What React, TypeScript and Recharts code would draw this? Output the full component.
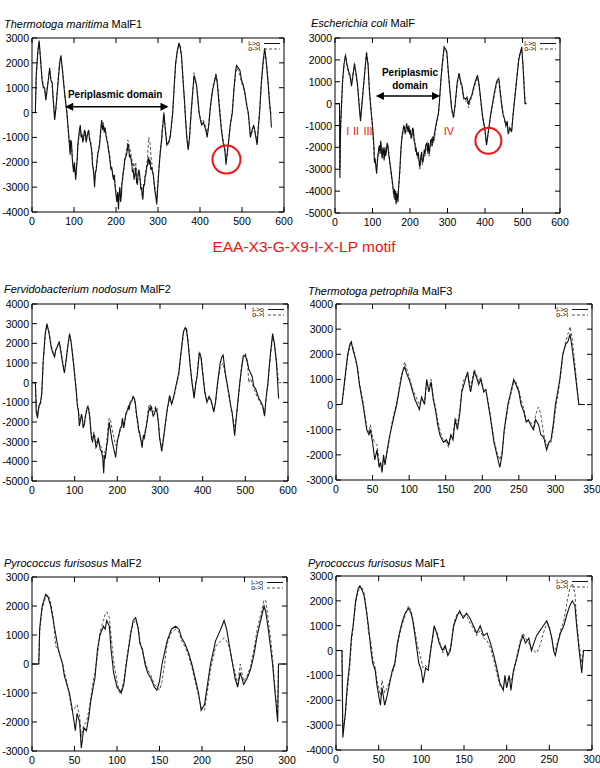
import React from 'react';
import { LineChart, Line, XAxis, YAxis, ReferenceArea, ReferenceDot, ReferenceLine } from 'recharts';

const FONT = '"Liberation Sans", Arial, Helvetica, sans-serif';
const RED = '#f01414';

// ---------- Thermotoga maritima MalF1 ----------
const tmXa = [3, 8, 10, 14, 17, 20, 24, 27, 30, 33, 36, 40, 42, 45, 48, 51, 54, 57, 62, 66, 69, 73, 78, 83];
const tmIOa = [0, 0, 1500, 2500, 2900, 2200, 1300, 1000, 1000, 500, 900, 1500, 1800, 1300, 1200, 400, -300, 200, 1200, 2000, 2300, 1600, 700, 0];
const tmOIa = [0, 0, 1400, 2400, 2800, 2300, 1400, 1100, 900, 700, 1000, 1400, 1700, 1400, 1100, 500, -200, 100, 1300, 2100, 2200, 1700, 800, 0];
const tmXb = [
  87, 89, 91, 92, 94, 96, 99, 101, 104, 106,
  108, 109, 111, 113, 115, 117, 119, 121, 123, 125,
  127, 129, 131, 133, 135, 137, 139, 141, 143, 144,
  146, 147, 149, 151, 153, 155, 157, 159, 161, 163,
  166, 168, 170, 172, 174, 176, 178, 180, 182, 184,
  186, 188, 190, 192, 194, 196, 198, 200, 202, 204,
  206, 207, 209, 211, 213, 214, 216, 217, 219, 221,
  223, 225, 227, 228, 230, 232, 234, 236, 238, 239,
  241, 243, 245, 247, 249, 251, 253, 255, 257, 259,
  261, 262, 264, 266, 268, 269, 271, 273, 275, 276,
  278, 279, 281, 283, 285, 287, 289, 291, 293, 295,
  297, 299, 301, 303, 305, 307, 309, 310, 312, 313,
  314,
];
const tmIOb = [
  -800, -1300, -1700, -1100, -1200, -1900, -2400, -2000, -2700, -2200,
  -1800, -1300, -1000, -700, -500, -1000, -900, -1200, -1000, -700,
  -800, -1200, -1000, -800, -700, -1100, -1200, -1400, -1700, -2100,
  -2300, -2500, -3000, -2400, -2300, -1900, -1600, -1500, -1300, -800,
  -300, -700, -500, -800, -600, -900, -1100, -1200, -1500, -1700,
  -2000, -2300, -2200, -2500, -2700, -2500, -3000, -3300, -3600, -3200,
  -3900, -3400, -3000, -3600, -3300, -2900, -2600, -2400, -2200, -1900,
  -1800, -1700, -1500, -1300, -1300, -1800, -1700, -1900, -2100, -2400,
  -2300, -2700, -2500, -2200, -2800, -2900, -2400, -2300, -2600, -3100,
  -3000, -3300, -3500, -2900, -2900, -2600, -2500, -2200, -2100, -1900,
  -1800, -2100, -1900, -2300, -2200, -2400, -2500, -2900, -3200, -3400,
  -3700, -3100, -2600, -2100, -1700, -1300, -1000, -700, -400, -200,
  0,
];
const tmOIb = [
  -900, -1200, -1600, -1300, -1300, -1800, -2300, -2100, -2600, -2300,
  -1700, -1400, -1100, -800, -600, -900, -800, -1100, -1100, -800,
  -900, -1100, -900, -900, -800, -1000, -1100, -1300, -1600, -2000,
  -2200, -2400, -2700, -2500, -2200, -2000, -1700, -1400, -1200, -900,
  -400, -600, -400, -700, -700, -800, -1000, -1300, -1400, -1600,
  -1800, -2200, -2300, -2400, -2600, -2600, -2900, -3200, -3400, -3300,
  -3600, -3500, -3100, -3300, -3000, -2800, -2700, -2500, -2300, -1800,
  -1700, -1500, -1300, -1100, -1200, -1600, -1500, -1700, -1900, -2100,
  -2000, -2300, -2100, -2000, -2600, -2700, -2500, -2400, -2700, -2900,
  -2900, -3100, -3300, -3000, -2800, -2600, -2400, -2100, -1900, -1500,
  -1000, -1100, -1200, -1700, -2000, -2300, -2600, -2800, -3000, -3300,
  -3500, -3000, -2500, -2000, -1600, -1400, -1100, -800, -500, -300,
  -100,
];
const tmXc = [
  318, 321, 325, 329, 332, 335, 339, 342, 346, 350,
  353, 356, 360, 363, 366, 369, 372, 375, 378, 382,
  386, 389, 392, 395, 398, 401, 404, 408, 412, 415,
  417, 421, 425, 430, 434, 438, 441, 444, 447, 451,
  455, 459, 462, 465, 468, 472, 477, 481, 485, 487,
  491, 495, 499, 503, 507, 511, 515, 518, 520, 524,
  528, 532, 536, 539, 542, 546, 550, 554, 558, 562,
  566, 568, 570,
];
const tmIOc = [
  -800, -1300, -1200, -1000, -500, 0, 1200, 2000, 2500, 2800,
  2600, 2300, 1200, 500, -400, -1100, -1500, -1000, -200, 700,
  1500, 1300, 1100, 500, 0, -300, -500, -400, -600, -800,
  -1000, -500, 300, 900, 1200, 1500, 1200, 600, 0, -700,
  -1200, -1500, -2100, -1600, -1200, -500, 0, 1000, 1700, 1900,
  1800, 1700, 1300, 1100, 800, 300, 0, -600, -1000, -700,
  -500, -900, -1300, -600, 0, 1200, 2000, 2600, 2000, 1200,
  300, 0, -600,
];
const tmOIc = [
  -700, -1200, -1300, -900, -600, 0, 1100, 1900, 2400, 2700,
  2700, 2200, 1300, 400, -300, -1000, -1400, -1100, -300, 600,
  1600, 1200, 1000, 600, -100, -200, -400, -300, -500, -700,
  -900, -400, 200, 1000, 1300, 1600, 1300, 800, 200, -600,
  -1100, -1400, -1800, -1700, -1100, -600, 100, 900, 1600, 1800,
  1700, 1500, 1200, 1000, 700, 400, -100, -500, -900, -800,
  -600, -800, -1200, -500, 100, 1100, 1900, 2500, 2100, 1300,
  400, 0, 0,
];
const tmX = [...tmXa, ...tmXb, ...tmXc];
const tmIO = [...tmIOa, ...tmIOb, ...tmIOc];
const tmOI = [...tmOIa, ...tmOIb, ...tmOIc];

// ---------- Escherichia coli MalF ----------
const ecXa = [3, 12, 13, 15, 20, 24, 28, 32, 36, 40, 44, 48, 52, 56, 60, 64, 68, 72, 78, 84, 88, 92, 96, 100];
const ecIOa = [0, 0, -3400, -1000, 1000, 1800, 2200, 1800, 1500, 1300, 800, 1300, 1800, 1400, 900, 0, -800, 0, 1200, 2300, 1800, 500, -300, -1000];
const ecOIa = [0, 0, -3000, -1200, 900, 1700, 2300, 1700, 1400, 1200, 900, 1400, 1900, 1300, 800, 100, -700, 100, 1100, 2400, 1900, 600, -200, -1100];
const ecXb = [
  104, 105, 107, 109, 111, 113, 115, 117, 119, 120,
  122, 124, 126, 128, 130, 131, 133, 135, 137, 139,
  141, 143, 145, 148, 151, 154, 157, 159, 160, 162,
  163, 165, 166, 168, 169, 171, 173, 175, 177, 179,
  181, 183, 185, 187, 189, 191, 193, 195, 197, 199,
  201, 203, 205, 207, 209, 211, 213, 215, 216, 218,
  220, 222, 224, 226, 227, 229, 231, 233, 236, 238,
  240, 242, 245, 247, 249, 251, 253, 255, 257, 259,
  261, 263, 265, 267, 269, 271, 274, 276, 278,
];
const ecIOb = [
  -2000, -2700, -2500, -2900, -3200, -2600, -2300, -2000, -1900, -2300,
  -1700, -2200, -2500, -2000, -2200, -2600, -2000, -2400, -2200, -1800,
  -1900, -2300, -2500, -2900, -3300, -3700, -4200, -3900, -4400, -4000,
  -4600, -4100, -4200, -4500, -4000, -3500, -3000, -2300, -1800, -1500,
  -1300, -1000, -1100, -1400, -1200, -900, -1100, -1300, -1000, -1400,
  -1200, -1600, -1500, -1100, -1200, -1700, -1800, -2200, -2000, -2300,
  -2400, -2200, -2600, -2900, -2800, -2400, -2200, -2700, -2500, -2100,
  -2300, -1900, -1800, -2200, -1800, -2300, -2000, -1700, -1600, -1900,
  -1500, -1700, -1400, -1200, -1000, -800, -600, -400, 0,
];
const ecOIb = [
  -2200, -2500, -2700, -2800, -3000, -2700, -2400, -2100, -2000, -2200,
  -1800, -2100, -2400, -2100, -2300, -2500, -2100, -2300, -2100, -1900,
  -2000, -2200, -2600, -3000, -3400, -3800, -4300, -4000, -4300, -4100,
  -4500, -4200, -4400, -4300, -3900, -3600, -3100, -2500, -1900, -1400,
  -1200, -1100, -1000, -1300, -1300, -1000, -1000, -1200, -1100, -1300,
  -1300, -1500, -1400, -1200, -1300, -1600, -1700, -2100, -2100, -2400,
  -2500, -2300, -2700, -3000, -2900, -2500, -2300, -2800, -2600, -2300,
  -2400, -2100, -2000, -2300, -1900, -2400, -2100, -1900, -1800, -2000,
  -1700, -1800, -1500, -1400, -1100, -900, -700, -500, -100,
];
const ecXc = [
  282, 286, 291, 295, 298, 302, 306, 311, 316, 320,
  326, 331, 335, 339, 343, 348, 352, 356, 360, 365,
  369, 374, 380, 384, 388, 393, 397, 400, 404, 407,
  411, 415, 420, 425, 431, 434, 437, 440, 444, 448,
  452, 456, 459, 462, 466, 471, 475, 478, 484, 490,
  494, 498, 502, 505, 507, 511,
];
const ecIOc = [
  1000, 1800, 2600, 2500, 2400, 1500, 700, -200, -600, -100,
  1000, 1400, 1000, 800, 300, 200, 300, 0, 200, 400,
  700, 1000, 1300, 900, 300, -500, -900, -1200, -1900, -1500,
  -1000, -500, 0, 500, 1000, 1100, 1100, 600, 0, -500,
  -700, -1000, -800, -1400, -1100, -1300, -500, 0, 1000, 2000,
  2300, 2600, 1500, 500, 0, 0,
];
const ecOIc = [
  900, 1700, 2500, 2400, 2300, 1400, 600, -300, -700, -200,
  900, 1300, 900, 700, 200, 100, 200, -200, 100, 300,
  600, 900, 1200, 800, 200, -600, -1000, -1300, -1800, -1600,
  -1100, -600, -100, 400, 900, 1000, 1200, 700, 100, -400,
  -800, -1100, -900, -1300, -1200, -1200, -400, 100, 1100, 2100,
  2400, 2500, 1700, 700, 0, 0,
];
const ecX = [...ecXa, ...ecXb, ...ecXc];
const ecIO = [...ecIOa, ...ecIOb, ...ecIOc];
const ecOI = [...ecOIa, ...ecOIb, ...ecOIc];

// ---------- Fervidobacterium nodosum MalF2 ----------
const fnXa = [0, 8, 10, 13, 16, 20, 23, 26, 31, 35, 40, 45, 49, 53, 56, 59, 64, 68, 74, 76, 79, 82, 88, 92, 98];
const fnIOa = [0, 0, -1500, -1800, -1200, -1000, -500, 1000, 2500, 3000, 2500, 1800, 1500, 1300, 1700, 1800, 2100, 1500, 700, 500, 1000, 1500, 2500, 2000, 800];
const fnOIa = [0, 0, -1300, -1600, -1300, -1100, -600, 900, 2400, 2900, 2600, 1900, 1600, 1400, 1600, 1900, 2000, 1600, 800, 600, 900, 1600, 2400, 2100, 900];
const fnXb = [
  104, 106, 109, 111, 113, 116, 118, 120, 123, 125,
  127, 129, 131, 133, 135, 137, 138, 140, 142, 145,
  147, 150, 152, 155, 157, 160, 163, 166, 168, 170,
  172, 175, 177, 179, 181, 183, 185, 188, 191, 194,
  196, 198, 200, 204, 207, 210, 212, 215, 217, 219,
  221, 224, 226, 228, 230, 234, 237, 240, 242, 245,
  248, 250, 252, 255, 258, 261, 263, 266, 268, 271,
  273, 275, 277, 279, 281, 284, 287, 290, 293, 296,
  299, 302, 304, 307, 310, 313, 316, 318, 320, 322,
  324, 327, 329, 332, 334,
];
const fnIOb = [
  -500, -1100, -1500, -2200, -2000, -1600, -1800, -2300, -2100, -1700,
  -1500, -1300, -1200, -1400, -1700, -2200, -2500, -2900, -3000, -2600,
  -2800, -3300, -3200, -2800, -3000, -3400, -3500, -3900, -4600, -3700,
  -3800, -3200, -3000, -2400, -2000, -2300, -2600, -3000, -3300, -3600,
  -3800, -3400, -3000, -2600, -2300, -2200, -1800, -2300, -2000, -1700,
  -1500, -1400, -1200, -1300, -1000, -900, -700, -800, -1000, -1600,
  -2000, -2400, -2500, -2900, -3300, -2700, -2800, -2400, -2200, -1800,
  -1500, -1300, -1400, -1200, -1400, -1700, -1600, -1300, -1500, -2000,
  -2800, -3200, -3500, -3000, -2500, -2000, -1500, -1200, -1000, -700,
  -800, -1100, -1000, -700, -500,
];
const fnOIb = [
  -400, -1000, -1400, -1900, -1900, -1700, -1900, -2200, -2000, -1800,
  -1600, -1400, -1300, -1300, -1600, -2100, -2400, -2700, -2800, -2500,
  -2700, -3100, -3000, -2900, -3100, -3200, -3300, -3600, -4000, -3500,
  -3700, -3000, -2600, -2100, -1800, -1900, -2000, -2400, -2700, -3000,
  -3200, -3100, -2900, -2700, -2400, -2300, -1900, -2200, -2100, -1800,
  -1600, -1500, -1300, -1400, -1100, -1000, -800, -900, -1100, -1700,
  -2200, -2500, -2700, -2800, -3000, -2800, -2900, -2500, -2300, -1600,
  -1300, -1100, -1200, -1100, -1300, -1500, -1400, -1200, -1300, -1900,
  -2700, -3100, -3400, -3100, -2600, -2100, -1600, -1300, -1100, -800,
  -700, -1000, -900, -800, -600,
];
const fnXc = [
  339, 344, 349, 355, 359, 362, 366, 371, 375, 380,
  384, 387, 392, 396, 400, 405, 410, 415, 420, 426,
  430, 435, 441, 445, 448, 453, 461, 466, 469, 475,
  480, 487, 491, 495, 500, 505, 508, 512, 516, 520,
  524, 527, 532, 537, 541, 545, 549, 553, 556, 559,
  564, 568, 573, 578, 586,
];
const fnIOc = [
  0, 500, 1500, 2600, 2800, 2700, 2000, 800, 0, -800,
  0, 300, 1500, 1300, 500, -500, -1000, -700, -900, -1500,
  -1000, 0, 1000, 1300, 1400, 500, -500, -1200, -1500, -2700,
  -1500, 0, 700, 1300, 1400, 1000, 700, 500, 300, -200,
  -300, -500, -800, -1000, -1200, -1700, -700, 0, 800, 1500,
  2500, 2000, 1000, -800, null,
];
const fnOIc = [
  -100, 400, 1400, 2500, 2700, 2800, 2100, 900, 100, -700,
  -100, 400, 1600, 1400, 600, -400, -900, -800, -1000, -1400,
  -1100, -100, 800, 900, 1000, 400, -600, -1300, -1600, -2300,
  -1600, -100, 800, 1400, 1500, 1100, 0, 200, 0, -300,
  -500, -700, -900, -1100, -1300, -1600, -800, -100, 700, 1400,
  2300, 2100, 1100, 0, 0,
];
const fnX = [...fnXa, ...fnXb, ...fnXc];
const fnIO = [...fnIOa, ...fnIOb, ...fnIOc];
const fnOI = [...fnOIa, ...fnOIb, ...fnOIc];

// ---------- Thermotoga petrophila MalF3 ----------
const tpX = [0, 8, 10, 12, 14, 16, 19, 21, 23, 25, 27, 29, 32, 35, 37, 40, 42, 45, 47, 50, 53, 56, 59, 61, 63, 65, 67, 70, 73, 76, 79, 83, 86, 89, 91, 94, 97, 100, 103, 105, 108, 111, 114, 117, 121, 124, 127, 130, 133, 136, 139, 142, 145, 147, 151, 154, 157, 160, 163, 166, 169, 172, 175, 177, 180, 182, 184, 189, 192, 195, 198, 202, 205, 207, 211, 216, 220, 224, 227, 230, 235, 239, 243, 246, 250, 253, 257, 260, 263, 266, 270, 273, 277, 280, 284, 288, 291, 294, 297, 300, 303, 306, 310, 314, 317, 320, 323, 326, 330, 332, 335, 340];
const tpIO = [0, 0, 500, 1000, 1500, 2000, 2400, 2500, 2200, 2000, 1800, 1500, 800, 300, 0, -600, -1000, -1200, -1000, -1500, -2200, -1800, -2500, -2300, -2700, -2000, -2400, -1800, -1300, -900, -500, 0, 500, 1000, 1300, 1500, 1200, 1000, 700, 500, 200, 0, -200, 300, 0, 1000, 500, 900, 200, -200, -800, -1200, -1400, -1500, -1400, -1600, -1200, -1400, -600, -1000, -400, 500, 800, 1000, 1300, 800, 500, 1300, 1100, 800, 1000, 500, 600, 200, -500, -1500, -2000, -2500, -2000, -1000, 0, 500, 1000, 800, 500, 0, -300, -700, -600, -800, -1000, -600, -800, -1200, -1300, -1800, -1500, -1400, -800, 0, 500, 1000, 2000, 2400, 2500, 2800, 2200, 1500, 500, 0, 0, 0];
const tpOI = [0, 0, 400, 900, 1400, 1900, 2300, 2400, 2300, 2100, 1700, 1600, 900, 400, 100, -500, -900, -1100, -800, -1300, -1500, -1600, -2300, -2400, -2600, -2200, -2300, -1900, -1400, -800, -400, 100, 600, 1100, 1300, 1700, 1400, 1100, 800, 600, 400, 200, 0, 200, 100, 900, 600, 1000, 300, -100, -600, -1000, -1300, -1400, -1500, -1700, -1300, -1200, -500, -800, -300, 600, 1000, 1100, 1200, 1000, 700, 1400, 1200, 900, 1100, 600, 500, 300, -400, -1400, -1900, -2200, -1900, -1100, -100, 400, 900, 900, 600, 200, -200, -600, -700, -700, -900, -400, -100, -400, -1200, -1600, -1600, -1500, -1000, -200, 300, 900, 1900, 2500, 2800, 3100, 2600, 1800, 600, 0, 0, 0];

// ---------- Pyrococcus furiosus MalF2 ----------
const pf2X = [0, 8, 9, 10, 12, 14, 16, 19, 22, 25, 28, 31, 33, 36, 38, 41, 44, 47, 51, 53, 56, 58, 61, 64, 67, 69, 72, 74, 77, 80, 84, 86, 88, 91, 93, 96, 100, 103, 105, 108, 111, 116, 119, 122, 125, 127, 130, 133, 136, 140, 144, 147, 150, 153, 156, 159, 164, 169, 173, 176, 180, 184, 188, 192, 196, 199, 203, 206, 210, 216, 222, 226, 229, 233, 236, 239, 242, 245, 249, 253, 257, 261, 265, 269, 273, 275, 278, 281, 283, 286, 289, 290, 298];
const pf2IO = [0, 0, 1200, 1500, 2000, 2200, 2400, 2300, 2000, 1500, 1000, 500, 300, 0, -400, -700, -1000, -1500, -2300, -1700, -2000, -2900, -2200, -2300, -1800, -1300, -800, -500, 500, 1000, 1300, 1200, 1500, 1300, 500, -300, -800, -900, -1000, -700, 0, 1000, 1500, 1600, 1200, 700, 500, 0, -300, -500, -800, -900, -600, 0, 400, 800, 1200, 1300, 1200, 900, 700, 400, 0, -500, -1000, -1600, -1400, -800, 0, 800, 1200, 1500, 1200, 500, 0, -500, -800, -300, -700, -500, -200, 300, 1000, 1500, 2000, 1800, 1200, 500, 0, -1000, -2000, 0, 0];
const pf2OI = [0, 0, 1100, 1400, 1900, 2100, 2300, 2400, 2100, 1600, 600, 500, 300, 0, -300, -600, -1100, -1600, -1500, -1400, -1800, -2500, -2100, -2000, -1600, -1200, -600, -300, 300, 1100, 1500, 1700, 1800, 1600, 1000, 100, -600, -1000, -900, -600, 100, 1100, 1400, 1500, 1300, 800, 400, 100, -200, -400, -700, -800, -900, -600, 0, 700, 1100, 1200, 1100, 800, 600, 300, -100, -600, -1100, -1500, -1600, -1000, -200, 600, 800, 900, 800, 500, 0, -300, -700, 0, -600, -400, -100, 500, 1200, 1700, 2200, 2200, 1500, 800, 200, -900, -1800, 0, 0];

// ---------- Pyrococcus furiosus MalF1 ----------
const pf1X = [0, 7, 8, 11, 13, 16, 18, 20, 23, 26, 28, 31, 33, 36, 38, 41, 43, 46, 48, 52, 54, 57, 60, 63, 66, 69, 72, 75, 78, 81, 85, 88, 90, 93, 95, 97, 100, 102, 105, 108, 111, 113, 115, 118, 121, 125, 128, 131, 134, 136, 138, 142, 145, 149, 153, 157, 161, 165, 169, 173, 177, 181, 185, 189, 192, 196, 198, 200, 203, 205, 208, 212, 216, 219, 222, 226, 229, 232, 235, 239, 243, 247, 250, 253, 255, 257, 260, 263, 267, 271, 274, 277, 280, 282, 285, 288, 290, 298];
const pf1IO = [0, 0, -3500, -2500, -1500, -500, 500, 1000, 2000, 2500, 2600, 2400, 2200, 1500, 1000, 0, -500, -800, -1400, -2200, -1500, -2200, -1800, -1300, -800, -500, 300, 800, 1200, 1500, 1700, 1500, 1200, 500, 0, -500, -800, -1300, -700, -800, 0, 500, 1000, 700, 300, 0, 200, -200, 0, 500, 1000, 1400, 1600, 1300, 1500, 1300, 1000, 700, 1000, 600, 700, 300, -200, -800, -1300, -1600, -1000, -1500, -1000, -1600, -800, -300, 300, 600, 300, 500, 0, 300, 600, 800, 1000, 1200, 900, 500, 0, -200, 300, 700, 1000, 1500, 1800, 2000, 1800, 1000, 0, -900, 0, 0];
const pf1OI = [0, 0, -3200, -2600, -1700, -700, 300, 900, 1900, 2400, 2500, 2500, 2300, 1600, 700, 300, -300, -700, -1200, -1800, -1200, -1700, -1500, -1200, -900, -600, 200, 700, 1100, 1400, 1800, 1600, 1300, 700, 300, 0, -400, -700, -600, -700, 100, 400, 900, 800, 400, -100, 100, -100, 100, 600, 1100, 1500, 1500, 1400, 1400, 1100, 900, 600, 800, 500, 400, 100, -400, -1000, -1400, -1500, -1300, -1200, -1100, -1200, -900, -200, 400, 700, 500, 300, 100, 0, -100, 200, 700, 1100, 1000, 400, 100, 0, 400, 800, 1200, 2000, 2500, 2700, 2300, 1200, 200, -500, 0, 0];

// ---------- ticks ----------
const x600 = [0, 100, 200, 300, 400, 500, 600];
const x350 = [0, 50, 100, 150, 200, 250, 300, 350];
const x300 = [0, 50, 100, 150, 200, 250, 300];
const yTM = [-4000, -3000, -2000, -1000, 0, 1000, 2000, 3000];
const yEC = [-5000, -4000, -3000, -2000, -1000, 0, 1000, 2000, 3000];
const yFN = [-5000, -4000, -3000, -2000, -1000, 0, 1000, 2000, 3000, 4000];
const yTP = [-3000, -2000, -1000, 0, 1000, 2000, 3000, 4000];
const yPF2 = [-3000, -2000, -1000, 0, 1000, 2000, 3000];
const yPF1 = [-4000, -3000, -2000, -1000, 0, 1000, 2000, 3000];

const ML = 40;
const MT = 10;
const MR = 12;
const XH = 24;
const TICK = 5;

type PanelProps = {
  left: number;
  top: number;
  plotW: number;
  plotH: number;
  xs: number[];
  io: (number | null)[];
  oi: (number | null)[];
  xTicks: number[];
  yTicks: number[];
  species: string;
  protein: string;
  titleX: number;
  titleY: number;
  children?: React.ReactNode;
};

function Panel(p: PanelProps) {
  const data = p.xs.map((x, i) => ({ x, io: p.io[i], oi: p.oi[i] }));
  const xDomain = [p.xTicks[0], p.xTicks[p.xTicks.length - 1]];
  const yDomain = [p.yTicks[0], p.yTicks[p.yTicks.length - 1]];
  const XTick = (t: any) => {
    const { x, y, payload } = t;
    return (
      <g>
        <line x1={x} y1={y} x2={x} y2={y - TICK} stroke="#000" />
        <line x1={x} y1={y - p.plotH} x2={x} y2={y - p.plotH + TICK} stroke="#000" />
        <text x={x} y={y + 13} textAnchor="middle" fontSize={10.5} fontFamily={FONT} fill="#000">
          {payload.value}
        </text>
      </g>
    );
  };
  const YTick = (t: any) => {
    const { x, y, payload } = t;
    return (
      <g>
        <line x1={x} y1={y} x2={x + TICK} y2={y} stroke="#000" />
        <line x1={x + p.plotW} y1={y} x2={x + p.plotW - TICK} y2={y} stroke="#000" />
        <text x={x - 3} y={y + 4} textAnchor="end" fontSize={10.5} fontFamily={FONT} fill="#000">
          {payload.value}
        </text>
      </g>
    );
  };
  return (
    <>
      <div
        style={{
          position: 'absolute',
          left: p.titleX,
          top: p.titleY - 7,
          fontFamily: FONT,
          fontSize: 11,
          lineHeight: '14px',
          whiteSpace: 'nowrap',
          color: '#000',
        }}
      >
        <i>{p.species}</i> {p.protein}
      </div>
      <div style={{ position: 'absolute', left: p.left - ML, top: p.top - MT }}>
        <LineChart
          width={p.plotW + ML + MR}
          height={p.plotH + MT + XH}
          data={data}
          margin={{ top: MT, right: MR, bottom: 0, left: 0 }}
        >
          <XAxis
            dataKey="x"
            type="number"
            domain={xDomain}
            ticks={p.xTicks}
            interval={0}
            tickSize={0}
            tickMargin={0}
            axisLine={false}
            tickLine={false}
            tick={XTick}
            height={XH}
            allowDataOverflow
          />
          <YAxis
            type="number"
            domain={yDomain}
            ticks={p.yTicks}
            interval={0}
            width={ML}
            tickSize={0}
            tickMargin={0}
            axisLine={false}
            tickLine={false}
            tick={YTick}
            allowDataOverflow
          />
          <ReferenceArea
            x1={xDomain[0]}
            x2={xDomain[1]}
            y1={yDomain[0]}
            y2={yDomain[1]}
            fill="none"
            fillOpacity={0}
            stroke="#000"
            strokeWidth={1}
          />
          <Line
            dataKey="oi"
            type="linear"
            stroke="#555"
            strokeWidth={1}
            strokeDasharray="3 2"
            dot={false}
            isAnimationActive={false}
          />
          <Line dataKey="io" type="linear" stroke="#111" strokeWidth={1.1} dot={false} isAnimationActive={false} />
          {p.children}
        </LineChart>
        <svg
          width={40}
          height={16}
          style={{ position: 'absolute', left: ML + p.plotW - 42, top: MT + 1 }}
        >
          <text x={18} y={6.5} textAnchor="end" fontSize={7} fontFamily={FONT} fill="#000">
            i-&gt;o
          </text>
          <text x={18} y={12} textAnchor="end" fontSize={7} fontFamily={FONT} fill="#000">
            o-&gt;i
          </text>
          <line x1={22} y1={4.5} x2={38} y2={4.5} stroke="#111" />
          <line x1={22} y1={10} x2={38} y2={10} stroke="#555" strokeDasharray="3 2" />
        </svg>
      </div>
    </>
  );
}

const arrowShape = (props: any) => {
  const { x1, y1, x2, y2 } = props;
  const h = 8;
  const w = 4;
  return (
    <g>
      <line x1={x1 + 2} y1={y1} x2={x2 - 2} y2={y2} stroke="#000" strokeWidth={1.5} />
      <polygon points={`${x1},${y1} ${x1 + h},${y1 - w} ${x1 + h},${y1 + w}`} fill="#000" />
      <polygon points={`${x2},${y2} ${x2 - h},${y2 - w} ${x2 - h},${y2 + w}`} fill="#000" />
    </g>
  );
};

const textShape = (label: string, color: string, size: number, bold: boolean) => (props: any) => (
  <text
    x={props.cx}
    y={props.cy}
    textAnchor="middle"
    dominantBaseline="central"
    fontSize={size}
    fontWeight={bold ? 'bold' : 'normal'}
    fontFamily={FONT}
    fill={color}
  >
    {label}
  </text>
);

export default function App() {
  return (
    <div style={{ position: 'absolute', left: 0, top: 0, width: 600, height: 768, background: '#fff' }}>
      <Panel
        left={32}
        top={38}
        plotW={252}
        plotH={174}
        xs={tmX}
        io={tmIO}
        oi={tmOI}
        xTicks={x600}
        yTicks={yTM}
        species="Thermotoga maritima"
        protein="MalF1"
        titleX={4}
        titleY={24}
      >
        <ReferenceLine segment={[{ x: 79, y: 230 }, { x: 325, y: 230 }]} shape={arrowShape} />
        <ReferenceDot x={198} y={720} r={1} shape={textShape('Periplasmic domain', '#000', 10, true)} />
        <ReferenceDot x={463} y={-1890} r={14} fill="none" stroke={RED} strokeWidth={2} />
      </Panel>
      <Panel
        left={335}
        top={38}
        plotW={225}
        plotH={175}
        xs={ecX}
        io={ecIO}
        oi={ecOI}
        xTicks={x600}
        yTicks={yEC}
        species="Escherichia coli"
        protein="MalF"
        titleX={311}
        titleY={23}
      >
        <ReferenceLine segment={[{ x: 109, y: 350 }, { x: 280, y: 350 }]} shape={arrowShape} />
        <ReferenceDot x={200} y={1420} r={1} shape={textShape('Periplasmic', '#000', 10, true)} />
        <ReferenceDot x={200} y={850} r={1} shape={textShape('domain', '#000', 10, true)} />
        <ReferenceDot x={34} y={-1250} r={1} shape={textShape('I', RED, 11, false)} />
        <ReferenceDot x={56} y={-1250} r={1} shape={textShape('II', RED, 11, false)} />
        <ReferenceDot x={88} y={-1250} r={1} shape={textShape('III', RED, 11, false)} />
        <ReferenceDot x={304} y={-1250} r={1} shape={textShape('IV', RED, 11, false)} />
        <ReferenceDot x={409} y={-1700} r={13} fill="none" stroke={RED} strokeWidth={2} />
      </Panel>
      <div
        style={{
          position: 'absolute',
          left: 0,
          width: 608,
          top: 237,
          textAlign: 'center',
          fontFamily: FONT,
          fontSize: 15.5,
          lineHeight: '20px',
          color: RED,
        }}
      >
        EAA-X3-G-X9-I-X-LP motif
      </div>
      <Panel
        left={32}
        top={304}
        plotW={256}
        plotH={177}
        xs={fnX}
        io={fnIO}
        oi={fnOI}
        xTicks={x600}
        yTicks={yFN}
        species="Fervidobacterium nodosum"
        protein="MalF2"
        titleX={4}
        titleY={289}
      />
      <Panel
        left={336}
        top={304}
        plotW={256}
        plotH={176}
        xs={tpX}
        io={tpIO}
        oi={tpOI}
        xTicks={x350}
        yTicks={yTP}
        species="Thermotoga petrophila"
        protein="MalF3"
        titleX={308}
        titleY={291}
      />
      <Panel
        left={32}
        top={577}
        plotW={255}
        plotH={174}
        xs={pf2X}
        io={pf2IO}
        oi={pf2OI}
        xTicks={x300}
        yTicks={yPF2}
        species="Pyrococcus furisosus"
        protein="MalF2"
        titleX={4}
        titleY={563}
      />
      <Panel
        left={336}
        top={576}
        plotW={256}
        plotH={174}
        xs={pf1X}
        io={pf1IO}
        oi={pf1OI}
        xTicks={x300}
        yTicks={yPF1}
        species="Pyrococcus furisosus"
        protein="MalF1"
        titleX={308}
        titleY={563}
      />
    </div>
  );
}
